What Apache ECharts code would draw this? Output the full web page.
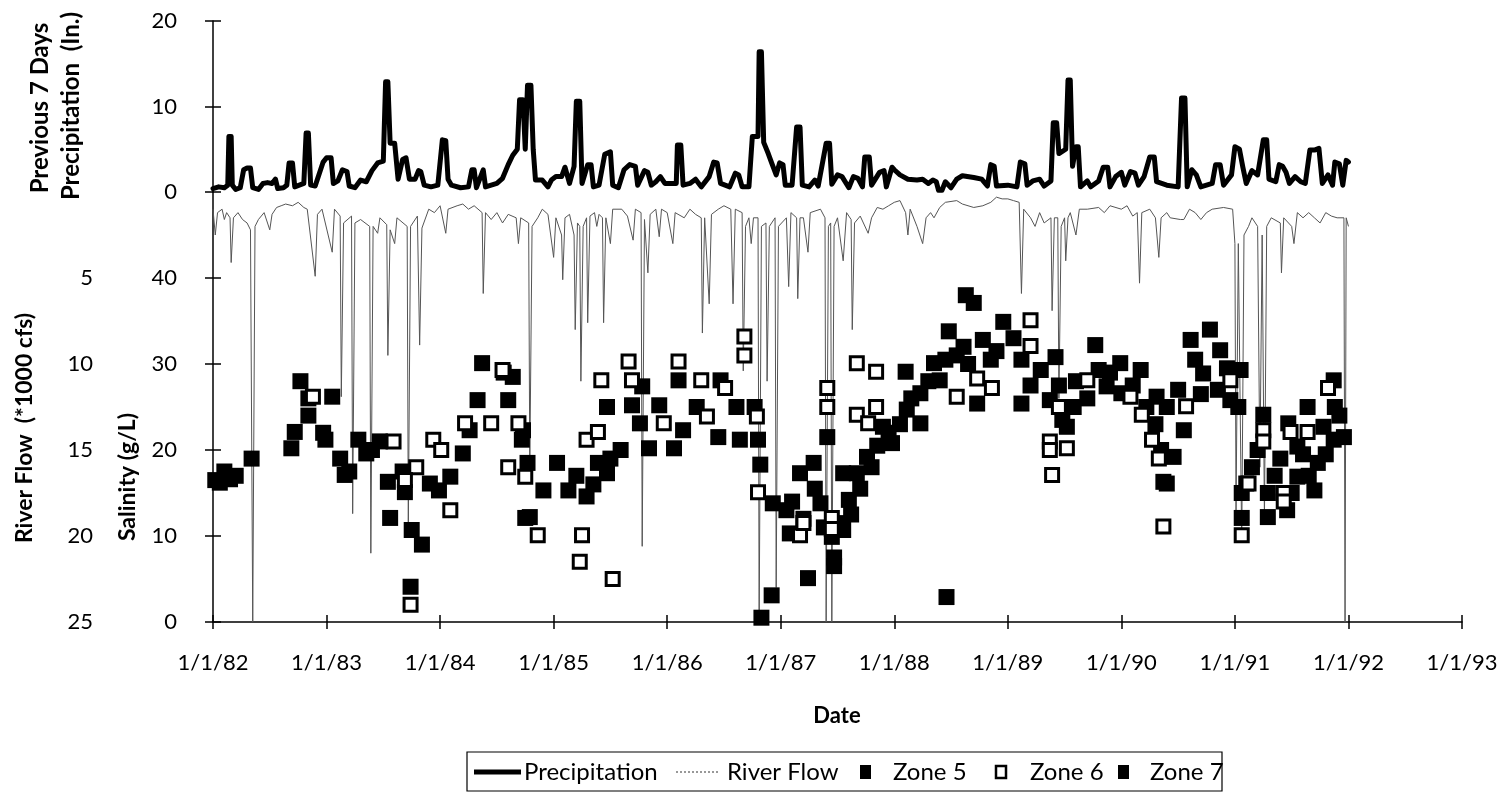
<!DOCTYPE html>
<html><head><meta charset="utf-8">
<script src="https://cdn.jsdelivr.net/npm/echarts@6/dist/echarts.min.js"></script>
<style>html,body{margin:0;padding:0;background:#fff}#c{width:1509px;height:800px}</style>
</head><body><div id="c"></div>
<script>
// ---------- DATA (dates as decimal years) ----------
const yearStart = 1982, yearEnd = 1993;
const precipTicks = [0, 10, 20];
const salinityTicks = [0, 10, 20, 30, 40];
const flowTicks = [5, 10, 15, 20, 25];
const legendNames = ['Precipitation', 'River Flow', 'Zone 5', 'Zone 6', 'Zone 7'];

const precipitation = [
[1982.00,0.4],[1982.05,0.6],[1982.10,0.5],[1982.13,0.8],[1982.14,6.5],[1982.16,6.5],[1982.17,0.8],[1982.20,0.3],[1982.24,0.5],[1982.27,2.6],[1982.30,2.8],[1982.33,2.8],[1982.35,0.5],[1982.40,0.3],[1982.44,1.0],[1982.48,1.1],[1982.52,1.0],[1982.55,1.5],[1982.57,0.4],[1982.62,0.5],[1982.65,0.8],[1982.67,3.4],[1982.70,3.4],[1982.72,0.6],[1982.80,1.0],[1982.82,6.9],[1982.84,6.9],[1982.86,0.8],[1982.90,0.7],[1982.97,3.5],[1983.00,4.0],[1983.04,4.0],[1983.06,1.0],[1983.10,1.3],[1983.14,2.6],[1983.18,2.4],[1983.20,0.7],[1983.25,0.5],[1983.30,1.4],[1983.35,1.2],[1983.40,2.5],[1983.45,3.4],[1983.50,3.6],[1983.52,12.9],[1983.54,12.9],[1983.56,5.7],[1983.60,5.7],[1983.63,1.5],[1983.67,3.8],[1983.70,4.0],[1983.73,1.5],[1983.78,1.5],[1983.81,2.5],[1983.83,2.4],[1983.86,0.8],[1983.92,0.6],[1983.98,0.8],[1984.02,6.1],[1984.05,6.0],[1984.07,1.5],[1984.10,0.8],[1984.18,0.5],[1984.25,0.6],[1984.28,2.6],[1984.30,2.6],[1984.32,0.5],[1984.38,2.6],[1984.40,0.6],[1984.50,1.0],[1984.55,1.6],[1984.60,3.2],[1984.64,4.3],[1984.68,5.0],[1984.70,10.8],[1984.73,10.8],[1984.75,5.0],[1984.77,12.5],[1984.80,12.5],[1984.82,5.0],[1984.84,1.4],[1984.90,1.4],[1984.95,0.6],[1984.98,1.4],[1985.02,1.8],[1985.07,1.8],[1985.10,2.9],[1985.14,1.0],[1985.18,3.0],[1985.20,10.6],[1985.23,10.6],[1985.25,1.0],[1985.30,3.2],[1985.33,3.2],[1985.35,0.6],[1985.40,0.8],[1985.45,4.4],[1985.50,4.7],[1985.52,0.8],[1985.57,0.5],[1985.62,2.6],[1985.67,3.2],[1985.72,3.0],[1985.74,0.8],[1985.80,2.5],[1985.83,2.3],[1985.86,0.8],[1985.90,1.2],[1985.94,1.8],[1985.98,1.0],[1986.08,1.0],[1986.09,5.5],[1986.12,5.5],[1986.14,0.8],[1986.20,1.0],[1986.25,1.5],[1986.30,0.6],[1986.37,1.8],[1986.41,3.5],[1986.44,3.4],[1986.47,1.0],[1986.55,0.6],[1986.60,2.2],[1986.63,2.0],[1986.66,0.6],[1986.72,0.6],[1986.75,6.5],[1986.80,6.5],[1986.81,16.4],[1986.83,16.4],[1986.85,5.8],[1986.89,4.5],[1986.92,3.4],[1986.96,2.0],[1986.99,3.4],[1987.02,3.2],[1987.04,0.8],[1987.10,0.8],[1987.14,7.6],[1987.17,7.6],[1987.19,0.8],[1987.25,0.6],[1987.30,1.4],[1987.33,0.7],[1987.40,5.7],[1987.43,5.7],[1987.45,0.9],[1987.50,2.0],[1987.54,1.8],[1987.60,0.5],[1987.64,1.8],[1987.68,1.6],[1987.72,0.6],[1987.74,4.1],[1987.78,4.1],[1987.80,0.8],[1987.87,2.3],[1987.91,2.5],[1987.93,0.6],[1987.98,2.9],[1988.00,2.6],[1988.05,2.0],[1988.12,1.5],[1988.20,1.4],[1988.25,1.5],[1988.30,1.0],[1988.34,1.4],[1988.37,1.2],[1988.39,0.2],[1988.42,0.2],[1988.45,1.2],[1988.50,0.5],[1988.55,1.5],[1988.60,1.9],[1988.70,1.7],[1988.77,1.5],[1988.82,0.7],[1988.85,3.2],[1988.88,3.0],[1988.90,0.7],[1989.00,0.8],[1989.08,0.6],[1989.11,3.5],[1989.15,3.3],[1989.17,0.8],[1989.22,1.3],[1989.28,1.5],[1989.32,0.7],[1989.38,1.3],[1989.40,8.1],[1989.43,8.1],[1989.45,4.5],[1989.51,5.0],[1989.53,13.1],[1989.55,13.1],[1989.57,3.0],[1989.60,5.3],[1989.62,5.3],[1989.64,0.6],[1989.70,1.3],[1989.73,0.6],[1989.80,1.3],[1989.84,2.9],[1989.88,2.9],[1989.90,0.6],[1989.95,1.8],[1990.00,2.3],[1990.03,0.8],[1990.08,2.4],[1990.12,2.2],[1990.15,0.8],[1990.20,1.8],[1990.25,4.1],[1990.29,4.1],[1990.31,1.2],[1990.40,0.8],[1990.50,0.6],[1990.53,11.0],[1990.56,11.0],[1990.58,0.6],[1990.62,2.6],[1990.66,2.0],[1990.70,0.6],[1990.80,1.0],[1990.83,3.2],[1990.87,3.2],[1990.90,0.8],[1990.97,2.0],[1991.00,5.3],[1991.04,5.0],[1991.07,2.9],[1991.10,1.0],[1991.15,2.5],[1991.20,2.0],[1991.25,6.1],[1991.28,6.1],[1991.30,1.5],[1991.36,1.2],[1991.39,3.2],[1991.42,3.0],[1991.45,2.3],[1991.48,1.0],[1991.53,1.8],[1991.58,1.2],[1991.62,1.0],[1991.66,4.9],[1991.70,4.9],[1991.74,5.1],[1991.77,1.0],[1991.82,2.0],[1991.86,0.8],[1991.88,3.5],[1991.92,3.3],[1991.95,0.8],[1991.98,3.7],[1992.00,3.5]
];

const riverFlow = [
[1982.00,1.0],[1982.02,2.5],[1982.04,1.2],[1982.08,1.0],[1982.10,1.6],[1982.12,1.2],[1982.15,1.5],[1982.16,4.1],[1982.18,1.5],[1982.22,1.2],[1982.26,1.6],[1982.30,1.8],[1982.33,2.2],[1982.35,25],[1982.37,2.0],[1982.40,1.6],[1982.45,1.2],[1982.50,2.2],[1982.52,1.3],[1982.56,0.9],[1982.60,0.8],[1982.64,0.7],[1982.70,0.8],[1982.75,0.6],[1982.80,0.9],[1982.83,1.0],[1982.90,4.9],[1982.92,1.3],[1982.96,1.0],[1983.05,3.5],[1983.07,1.0],[1983.12,1.4],[1983.13,11.9],[1983.15,1.8],[1983.22,1.4],[1983.23,18.7],[1983.25,1.8],[1983.30,1.6],[1983.38,2.0],[1983.39,21.0],[1983.41,2.0],[1983.45,2.4],[1983.47,1.5],[1983.53,1.9],[1983.54,9.5],[1983.56,2.2],[1983.60,3.0],[1983.62,1.5],[1983.71,2.0],[1983.72,19.5],[1983.74,2.0],[1983.80,1.4],[1983.82,8.9],[1983.84,2.1],[1983.90,1.0],[1983.95,1.2],[1984.00,0.8],[1984.05,2.4],[1984.07,1.0],[1984.15,0.8],[1984.20,0.7],[1984.25,1.0],[1984.30,0.8],[1984.37,1.2],[1984.38,5.9],[1984.40,1.2],[1984.45,1.6],[1984.50,1.2],[1984.55,1.8],[1984.60,1.3],[1984.67,1.5],[1984.69,3.0],[1984.71,1.5],[1984.78,1.8],[1984.79,16.0],[1984.81,2.0],[1984.86,1.5],[1984.90,1.0],[1984.95,1.3],[1985.00,3.8],[1985.02,1.5],[1985.07,2.5],[1985.08,5.1],[1985.10,1.5],[1985.14,1.3],[1985.18,2.5],[1985.19,8.0],[1985.21,1.8],[1985.23,2.0],[1985.24,11.0],[1985.26,2.0],[1985.29,1.5],[1985.30,7.6],[1985.32,1.4],[1985.36,1.2],[1985.38,2.0],[1985.40,1.3],[1985.43,1.5],[1985.44,7.6],[1985.46,1.5],[1985.50,3.0],[1985.52,1.0],[1985.60,1.0],[1985.65,1.4],[1985.70,2.8],[1985.72,1.0],[1985.77,1.2],[1985.78,20.6],[1985.80,1.6],[1985.83,4.7],[1985.85,1.3],[1985.90,1.0],[1985.93,2.6],[1985.95,1.0],[1986.00,1.2],[1986.05,3.0],[1986.07,1.2],[1986.15,1.5],[1986.20,1.0],[1986.25,1.3],[1986.30,1.5],[1986.31,8.2],[1986.33,1.5],[1986.37,6.5],[1986.39,1.3],[1986.45,1.0],[1986.50,0.8],[1986.56,1.0],[1986.58,6.5],[1986.60,1.0],[1986.66,1.2],[1986.67,10.4],[1986.69,2.0],[1986.72,1.5],[1986.74,3.0],[1986.76,1.5],[1986.80,1.5],[1986.81,25],[1986.83,2.0],[1986.87,1.8],[1986.88,11.0],[1986.90,2.0],[1986.95,1.5],[1986.96,23.0],[1986.98,2.0],[1987.05,1.5],[1987.07,5.5],[1987.09,1.2],[1987.14,1.5],[1987.15,6.2],[1987.17,1.5],[1987.20,1.5],[1987.24,3.5],[1987.26,1.2],[1987.35,1.0],[1987.39,1.5],[1987.40,25],[1987.42,2.0],[1987.44,1.8],[1987.45,25],[1987.47,2.0],[1987.50,1.5],[1987.55,4.0],[1987.58,1.2],[1987.62,1.6],[1987.63,8.0],[1987.65,1.8],[1987.70,1.4],[1987.77,2.4],[1987.80,1.5],[1987.85,0.9],[1987.90,1.0],[1987.95,0.8],[1988.00,0.6],[1988.05,0.5],[1988.10,1.2],[1988.12,2.5],[1988.14,1.0],[1988.20,2.0],[1988.25,3.0],[1988.28,1.5],[1988.32,1.2],[1988.35,1.5],[1988.40,0.9],[1988.45,0.6],[1988.55,0.5],[1988.60,0.7],[1988.70,0.9],[1988.78,0.8],[1988.85,0.6],[1988.90,0.3],[1988.95,0.4],[1989.00,0.4],[1989.05,0.5],[1989.10,0.6],[1989.12,5.9],[1989.14,1.0],[1989.20,1.5],[1989.24,2.0],[1989.28,1.2],[1989.32,1.8],[1989.38,1.5],[1989.39,6.9],[1989.41,1.5],[1989.44,1.5],[1989.45,12.0],[1989.47,2.0],[1989.50,1.5],[1989.51,4.0],[1989.53,1.5],[1989.55,1.2],[1989.60,2.5],[1989.63,1.0],[1989.70,1.0],[1989.80,0.9],[1989.85,1.2],[1989.90,0.8],[1990.00,1.0],[1990.05,0.8],[1990.10,1.4],[1990.14,1.2],[1990.16,5.3],[1990.18,1.2],[1990.25,1.0],[1990.30,1.5],[1990.33,3.8],[1990.35,1.5],[1990.40,1.2],[1990.43,1.5],[1990.52,1.6],[1990.55,1.6],[1990.60,1.0],[1990.65,1.2],[1990.70,1.6],[1990.75,1.2],[1990.80,1.0],[1990.90,0.9],[1990.98,1.0],[1991.00,3.0],[1991.01,18.5],[1991.03,3.0],[1991.06,20.4],[1991.08,2.5],[1991.12,2.0],[1991.15,1.5],[1991.20,2.0],[1991.22,16.0],[1991.24,2.5],[1991.26,19.0],[1991.28,2.0],[1991.32,1.5],[1991.40,1.8],[1991.41,4.7],[1991.43,1.5],[1991.50,2.0],[1991.52,3.0],[1991.55,1.2],[1991.60,1.5],[1991.65,1.2],[1991.70,1.5],[1991.75,1.8],[1991.80,1.2],[1991.85,1.4],[1991.90,1.5],[1991.96,1.5],[1991.97,25],[1991.98,1.5],[1992.00,2.0]
];

const zone5 = [
[1982.02,16.5],[1982.06,16.2],[1982.10,17.5],[1982.15,16.6],[1982.20,17.0],[1982.34,19.0],
[1982.69,20.2],[1982.72,22.1],[1982.77,28.0],[1982.84,26.0],[1982.84,24.0],[1982.97,22.0],[1983.05,26.2],[1982.99,21.2],[1983.12,19.0],[1983.16,17.1],[1983.20,17.5],[1983.28,21.2],[1983.35,19.6],[1983.40,20.0],[1983.47,21.0],[1983.54,16.3],[1983.56,12.1],[1983.67,17.5],[1983.69,15.1],[1983.75,10.7],[1983.84,9.0],[1983.74,4.1],[1983.91,16.1],[1983.99,15.3],[1984.09,16.9],[1984.20,19.6],[1984.26,22.3],[1984.33,25.8],[1984.37,30.1],[1984.56,29.0],[1984.64,28.5],[1984.60,25.8],[1984.72,21.2],[1984.75,12.1],[1984.73,22.3],[1984.77,18.5],[1984.91,15.3],[1984.79,12.2],
[1985.03,18.5],[1985.13,15.3],[1985.20,17.0],[1985.29,14.6],[1985.35,16.0],[1985.39,18.5],[1985.47,17.3],[1985.50,19.0],[1985.59,20.0],[1985.47,25.0],[1985.69,25.2],[1985.78,27.4],[1985.76,23.1],[1985.84,20.2],[1985.93,25.2],[1986.06,20.2],[1986.14,22.3],[1986.10,28.1],[1986.26,25.0],[1986.47,28.1],[1986.45,21.5],[1986.61,25.0],[1986.64,21.2],[1986.77,25.0],[1986.80,21.2],[1986.82,18.3],[1986.92,3.1],[1986.83,0.5],[1986.93,13.8],[1987.05,13.0],[1987.08,10.3],[1987.10,14.0],[1987.20,12.0],[1987.24,5.1],[1987.17,17.3],[1987.29,18.5],[1987.30,15.5],[1987.35,13.8],[1987.38,11.0],[1987.41,21.5],[1987.47,6.5],[1987.47,7.5],[1987.52,11.5],[1987.45,9.9],[1987.55,17.3],[1987.55,10.7]
];
const zone7 = [
[1987.60,14.2],[1987.62,12.5],[1987.67,17.3],[1987.70,15.5],[1987.76,19.2],[1987.80,18.0],[1987.85,20.5],[1987.90,22.7],[1987.95,22.0],[1987.98,20.8],[1988.05,23.0],[1988.10,29.1],[1988.11,24.7],[1988.15,26.0],[1988.23,26.6],[1988.23,23.1],[1988.30,28.0],[1988.35,30.1],[1988.40,28.1],[1988.45,30.5],[1988.46,2.9],[1988.48,33.8],[1988.55,31.0],[1988.61,32.0],[1988.63,38.0],[1988.65,30.0],[1988.70,37.1],[1988.73,25.4],[1988.78,32.8],[1988.85,30.5],[1988.90,31.5],[1988.96,34.9],[1989.05,33.0],[1989.12,30.5],[1989.12,25.4],[1989.20,27.5],[1989.29,29.3],[1989.37,25.8],[1989.42,30.8],[1989.45,27.5],[1989.48,23.5],[1989.52,22.7],[1989.58,25.0],[1989.60,28.0],[1989.70,26.0],[1989.77,32.2],[1989.80,29.3],[1989.87,27.4],[1989.90,29.0],[1989.99,30.1],[1990.00,26.6],[1990.10,27.5],[1990.17,29.3],[1990.22,25.0],[1990.30,23.0],[1990.31,26.2],[1990.35,20.0],[1990.37,16.3],[1990.40,16.1],[1990.40,25.0],[1990.46,19.2],[1990.50,27.0],[1990.55,22.3],[1990.61,32.8],[1990.65,30.5],[1990.70,26.5],[1990.72,28.9],[1990.78,34.0],[1990.85,27.0],[1990.87,31.6],[1990.93,29.5],[1990.96,25.8],[1991.03,25.0],[1991.05,29.3],[1991.06,15.0],[1991.06,12.1],[1991.10,16.1],[1991.15,18.0],[1991.20,20.0],[1991.25,24.1],[1991.29,12.2],[1991.29,15.0],[1991.35,17.0],[1991.40,19.0],[1991.46,13.0],[1991.47,23.1],[1991.50,15.0],[1991.55,20.4],[1991.55,16.9],[1991.60,19.5],[1991.64,25.0],[1991.65,17.0],[1991.70,15.3],[1991.73,18.5],[1991.78,22.7],[1991.80,19.5],[1991.87,28.1],[1991.87,21.2],[1991.88,25.0],[1991.92,24.0],[1991.96,21.5]
];
const zone6 = [
[1982.88,26.2],[1983.59,21.0],[1983.79,18.0],[1983.69,16.5],[1983.74,2.0],[1983.94,21.2],[1984.01,20.0],[1984.09,13.0],[1984.22,23.1],[1984.45,23.1],[1984.55,29.3],[1984.69,23.1],[1984.60,18.0],[1984.75,16.9],[1984.86,10.1],
[1985.29,21.2],[1985.39,22.1],[1985.25,10.1],[1985.23,7.0],[1985.52,5.0],[1985.42,28.1],[1985.66,30.3],[1985.69,28.1],[1985.97,23.1],[1986.10,30.3],[1986.30,28.1],[1986.51,27.2],[1986.35,23.9],[1986.68,33.2],[1986.68,31.0],[1986.79,23.9],[1986.80,15.1],[1987.17,10.1],[1987.20,11.5],[1987.41,27.2],[1987.41,25.0],[1987.45,12.1],[1987.45,10.8],
[1987.67,24.1],[1987.67,30.1],[1987.84,29.1],[1987.84,25.0],[1987.77,23.1],[1988.55,26.2],[1988.73,28.3],[1988.86,27.2],[1989.20,35.1],[1989.20,32.1],[1989.37,21.0],[1989.37,20.0],[1989.52,20.2],[1989.39,17.1],[1989.45,25.0],[1989.70,28.1],[1990.08,26.2],[1990.18,24.1],[1990.27,21.2],[1990.33,19.0],[1990.37,11.1],[1990.57,25.1],[1990.96,28.1],[1991.06,10.1],[1991.12,16.1],[1991.25,22.3],[1991.25,21.0],[1991.43,15.0],[1991.43,14.0],[1991.49,22.1],[1991.64,22.1],[1991.82,27.2]
];

// ---------- CHART ----------
const FONT = 'Lato';
const L = 213, R = 1509 - 1462, T0 = 21, B0 = 192, B1 = 622;
const chart = echarts.init(document.getElementById('c'), null, {renderer: 'canvas'});
const yearLabel = v => '1/1/' + String(v).slice(2);
const lab = {color: '#000', fontFamily: FONT, fontSize: 22};
const tickStyle = {color: '#000', width: 1.5};
const title = (text, x, y, size, rot) => ({type: 'text', x, y, rotation: rot ? Math.PI / 2 : 0,
  style: {text, fontFamily: FONT, fontWeight: 'bold', fontSize: size, fill: '#000', textAlign: 'center', textVerticalAlign: 'middle'}});
const legText = (text, x) => ({type: 'text', x, y: 772,
  style: {text, fontFamily: FONT, fontSize: 24, fill: '#000', textAlign: 'left', textVerticalAlign: 'middle'}});

const option = {
  backgroundColor: '#fff',
  animation: false,
  grid: [
    {left: L, right: R, top: T0, height: B0 - T0},
    {left: L, right: R, top: B0, height: B1 - B0}
  ],
  xAxis: [
    {gridIndex: 0, type: 'value', min: yearStart, max: yearEnd, show: false},
    {gridIndex: 1, type: 'value', min: yearStart, max: yearEnd, interval: 1,
     axisLine: {lineStyle: tickStyle},
     axisTick: {show: true, length: 7, lineStyle: tickStyle},
     splitLine: {show: false},
     axisLabel: Object.assign({formatter: yearLabel, margin: 30}, lab)},
    {gridIndex: 1, type: 'value', min: yearStart, max: yearEnd, interval: 1, position: 'bottom',
     axisLine: {show: false}, axisLabel: {show: false}, splitLine: {show: false},
     axisTick: {show: true, inside: true, length: 7, lineStyle: tickStyle}}
  ],
  yAxis: [
    {gridIndex: 0, type: 'value', min: 0, max: 20, interval: 10, position: 'left',
     axisLine: {show: true, lineStyle: tickStyle},
     axisTick: {show: true, length: 8, lineStyle: tickStyle},
     splitLine: {show: false},
     axisLabel: Object.assign({margin: 36, formatter: v => precipTicks.includes(v) ? String(v) : ''}, lab)},
    {gridIndex: 0, type: 'value', min: 0, max: 20, interval: 10, position: 'left',
     axisLine: {show: false}, axisLabel: {show: false}, splitLine: {show: false},
     axisTick: {show: true, inside: true, length: 8, lineStyle: tickStyle}},
    {gridIndex: 1, type: 'value', min: 0, max: 50, interval: 10, position: 'left',
     axisLine: {show: true, lineStyle: tickStyle},
     axisTick: {show: true, length: 8, lineStyle: tickStyle},
     splitLine: {show: false},
     axisLabel: Object.assign({margin: 36, formatter: v => salinityTicks.includes(v) ? String(v) : ''}, lab)},
    {gridIndex: 1, type: 'value', min: 0, max: 50, interval: 10, position: 'left',
     axisLine: {show: false}, axisLabel: {show: false}, splitLine: {show: false},
     axisTick: {show: true, inside: true, length: 8, lineStyle: tickStyle}},
    {gridIndex: 1, type: 'value', min: 0, max: 25, interval: 5, inverse: true, position: 'left',
     axisLine: {show: false}, axisTick: {show: false}, splitLine: {show: false},
     axisLabel: Object.assign({margin: 120, formatter: v => flowTicks.includes(v) ? String(v) : ''}, lab)}
  ],
  graphic: [
    title('Previous 7 Days', 40, 108, 24, true),
    title('Precipitation  (In.)', 71, 106, 24, true),
    title('River Flow  (*1000 cfs)', 25, 428, 23, true),
    title('Salinity (g/L)', 128, 477, 23, true),
    title('Date', 837, 716, 22, false),
    // legend
    {type: 'rect', shape: {x: 467, y: 752, width: 755, height: 39}, style: {fill: 'none', stroke: '#000', lineWidth: 1.2}},
    {type: 'line', shape: {x1: 474, y1: 772, x2: 521, y2: 772}, style: {stroke: '#000', lineWidth: 5}},
    legText(legendNames[0], 524),
    {type: 'line', shape: {x1: 676, y1: 772, x2: 718, y2: 772}, style: {stroke: '#777', lineWidth: 1.5, lineDash: [2, 2]}},
    legText(legendNames[1], 727),
    {type: 'rect', shape: {x: 860, y: 765, width: 11, height: 14}, style: {fill: '#000'}},
    legText(legendNames[2], 893),
    {type: 'rect', shape: {x: 996, y: 766, width: 10, height: 12}, style: {fill: '#fff', stroke: '#000', lineWidth: 2.5}},
    legText(legendNames[3], 1030),
    {type: 'rect', shape: {x: 1118, y: 765, width: 11, height: 14}, style: {fill: '#000'}},
    legText(legendNames[4], 1150)
  ],
  series: [
    {name: 'River Flow', type: 'line', xAxisIndex: 1, yAxisIndex: 4, data: riverFlow, symbol: 'none',
     lineStyle: {color: '#555', width: 1, type: 'solid'}, z: 1, clip: true},
    {name: 'Precipitation', type: 'line', xAxisIndex: 0, yAxisIndex: 0, data: precipitation, symbol: 'none',
     lineStyle: {color: '#000', width: 5, join: 'round', cap: 'round'}, z: 3, clip: false},
    {name: 'Zone 5', type: 'scatter', xAxisIndex: 1, yAxisIndex: 2, data: zone5, symbol: 'rect', symbolSize: 16,
     itemStyle: {color: '#000', opacity: 1}, z: 4},
    {name: 'Zone 7', type: 'scatter', xAxisIndex: 1, yAxisIndex: 2, data: zone7, symbol: 'rect', symbolSize: 16,
     itemStyle: {color: '#000', opacity: 1}, z: 4},
    {name: 'Zone 6', type: 'scatter', xAxisIndex: 1, yAxisIndex: 2, data: zone6, symbol: 'rect', symbolSize: 13,
     itemStyle: {color: '#fff', borderColor: '#000', borderWidth: 3, opacity: 1}, z: 5}
  ]
};
chart.setOption(option);
</script>
</body></html>
